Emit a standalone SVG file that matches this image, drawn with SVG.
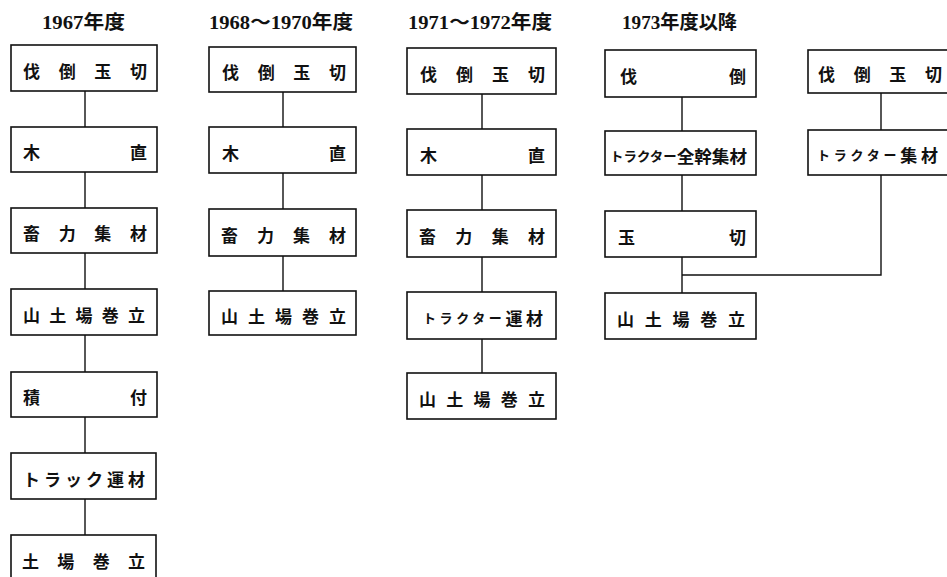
<svg xmlns="http://www.w3.org/2000/svg" width="947" height="577" viewBox="0 0 947 577">
<style>
.bg{fill:#fff}
.box{fill:#fff;stroke:#111;stroke-width:1.6}
.ln{fill:none;stroke:#111;stroke-width:1.4}
.t{font-family:"Noto Sans CJK JP","Noto Sans CJK SC",sans-serif;font-size:17px;font-weight:700;fill:#111;dominant-baseline:central}
.s{font-size:13px}
.h{font-family:"Liberation Serif","Noto Sans CJK JP",serif;font-size:19px;font-weight:700;fill:#111}
</style>
<rect class="bg" x="0" y="0" width="947" height="577"/>
<g id="titles">
<text class="h" x="42" y="29" textLength="83" lengthAdjust="spacingAndGlyphs">1967年度</text>
<text class="h" x="209" y="29" textLength="144" lengthAdjust="spacingAndGlyphs">1968～1970年度</text>
<text class="h" x="408" y="29" textLength="144" lengthAdjust="spacingAndGlyphs">1971～1972年度</text>
<text class="h" x="622" y="29" textLength="115" lengthAdjust="spacingAndGlyphs">1973年度以降</text>
</g>
<g id="connectors">
<path class="ln" d="M85 91V127M85 172V208M85 253V289M85 335V372M85 417V453M85 499V535"/>
<path class="ln" d="M283 92V127M283 173V209M283 256V291"/>
<path class="ln" d="M482 94V129M482 175V210M482 257V292M482 339V373"/>
<path class="ln" d="M682 97V131M682 175V211M682 257V293"/>
<path class="ln" d="M881 93V130M881 175V275H682"/>
</g>
<g id="c1n1"><rect class="box" x="11" y="45" width="146" height="46"/><text class="t" x="23" y="70" textLength="124" lengthAdjust="spacing">伐倒玉切</text></g>
<g id="c1n2"><rect class="box" x="11" y="127" width="146" height="45"/><text class="t" x="23" y="151" textLength="124" lengthAdjust="spacing">木直</text></g>
<g id="c1n3"><rect class="box" x="11" y="208" width="146" height="45"/><text class="t" x="23" y="232" textLength="124" lengthAdjust="spacing">畜力集材</text></g>
<g id="c1n4"><rect class="box" x="11" y="289" width="146" height="46"/><text class="t" x="23" y="314" textLength="122" lengthAdjust="spacing">山土場巻立</text></g>
<g id="c1n5"><rect class="box" x="11" y="372" width="146" height="45"/><text class="t" x="23" y="396" textLength="124" lengthAdjust="spacing">積付</text></g>
<g id="c1n6"><rect class="box" x="11" y="453" width="145" height="46"/><text class="t" x="23" y="478" textLength="122" lengthAdjust="spacing">トラック運材</text></g>
<g id="c1n7"><rect class="box" x="11" y="535" width="145" height="60"/><text class="t" x="22" y="560" textLength="123" lengthAdjust="spacing">土場巻立</text></g>
<g id="c2n1"><rect class="box" x="209" y="47" width="147" height="45"/><text class="t" x="222" y="71" textLength="124" lengthAdjust="spacing">伐倒玉切</text></g>
<g id="c2n2"><rect class="box" x="209" y="127" width="147" height="46"/><text class="t" x="222" y="152" textLength="124" lengthAdjust="spacing">木直</text></g>
<g id="c2n3"><rect class="box" x="209" y="209" width="147" height="47"/><text class="t" x="221" y="234" textLength="125" lengthAdjust="spacing">畜力集材</text></g>
<g id="c2n4"><rect class="box" x="209" y="291" width="147" height="44"/><text class="t" x="221" y="315" textLength="125" lengthAdjust="spacing">山土場巻立</text></g>
<g id="c3n1"><rect class="box" x="407" y="48" width="149" height="46"/><text class="t" x="420" y="73" textLength="125" lengthAdjust="spacing">伐倒玉切</text></g>
<g id="c3n2"><rect class="box" x="407" y="129" width="149" height="46"/><text class="t" x="420" y="154" textLength="125" lengthAdjust="spacing">木直</text></g>
<g id="c3n3"><rect class="box" x="407" y="210" width="149" height="47"/><text class="t" x="419" y="235" textLength="126" lengthAdjust="spacing">畜力集材</text></g>
<g id="c3n4"><rect class="box" x="407" y="292" width="149" height="47"/><text class="t" x="423" y="317" textLength="120" lengthAdjust="spacing"><tspan class="s">トラクター</tspan>運材</text></g>
<g id="c3n5"><rect class="box" x="407" y="373" width="149" height="46"/><text class="t" x="419" y="398" textLength="126" lengthAdjust="spacing">山土場巻立</text></g>
<g id="c4n1"><rect class="box" x="605" y="50" width="151" height="47"/><text class="t" x="620" y="75" textLength="126" lengthAdjust="spacing">伐倒</text></g>
<g id="c4n2"><rect class="box" x="605" y="131" width="151" height="44"/><text class="t" x="610" y="155" textLength="137" lengthAdjust="spacingAndGlyphs"><tspan class="s">トラクター</tspan>全幹集材</text></g>
<g id="c4n3"><rect class="box" x="605" y="211" width="151" height="46"/><text class="t" x="618" y="236" textLength="128" lengthAdjust="spacing">玉切</text></g>
<g id="c4n4"><rect class="box" x="605" y="293" width="151" height="46"/><text class="t" x="617" y="318" textLength="128" lengthAdjust="spacing">山土場巻立</text></g>
<g id="c5n1"><rect class="box" x="808" y="50" width="150" height="43"/><text class="t" x="818" y="73" textLength="124" lengthAdjust="spacing">伐倒玉切</text></g>
<g id="c5n2"><rect class="box" x="808" y="130" width="150" height="45"/><text class="t" x="817" y="154" textLength="121" lengthAdjust="spacing"><tspan class="s">トラクター</tspan>集材</text></g>
</svg>
